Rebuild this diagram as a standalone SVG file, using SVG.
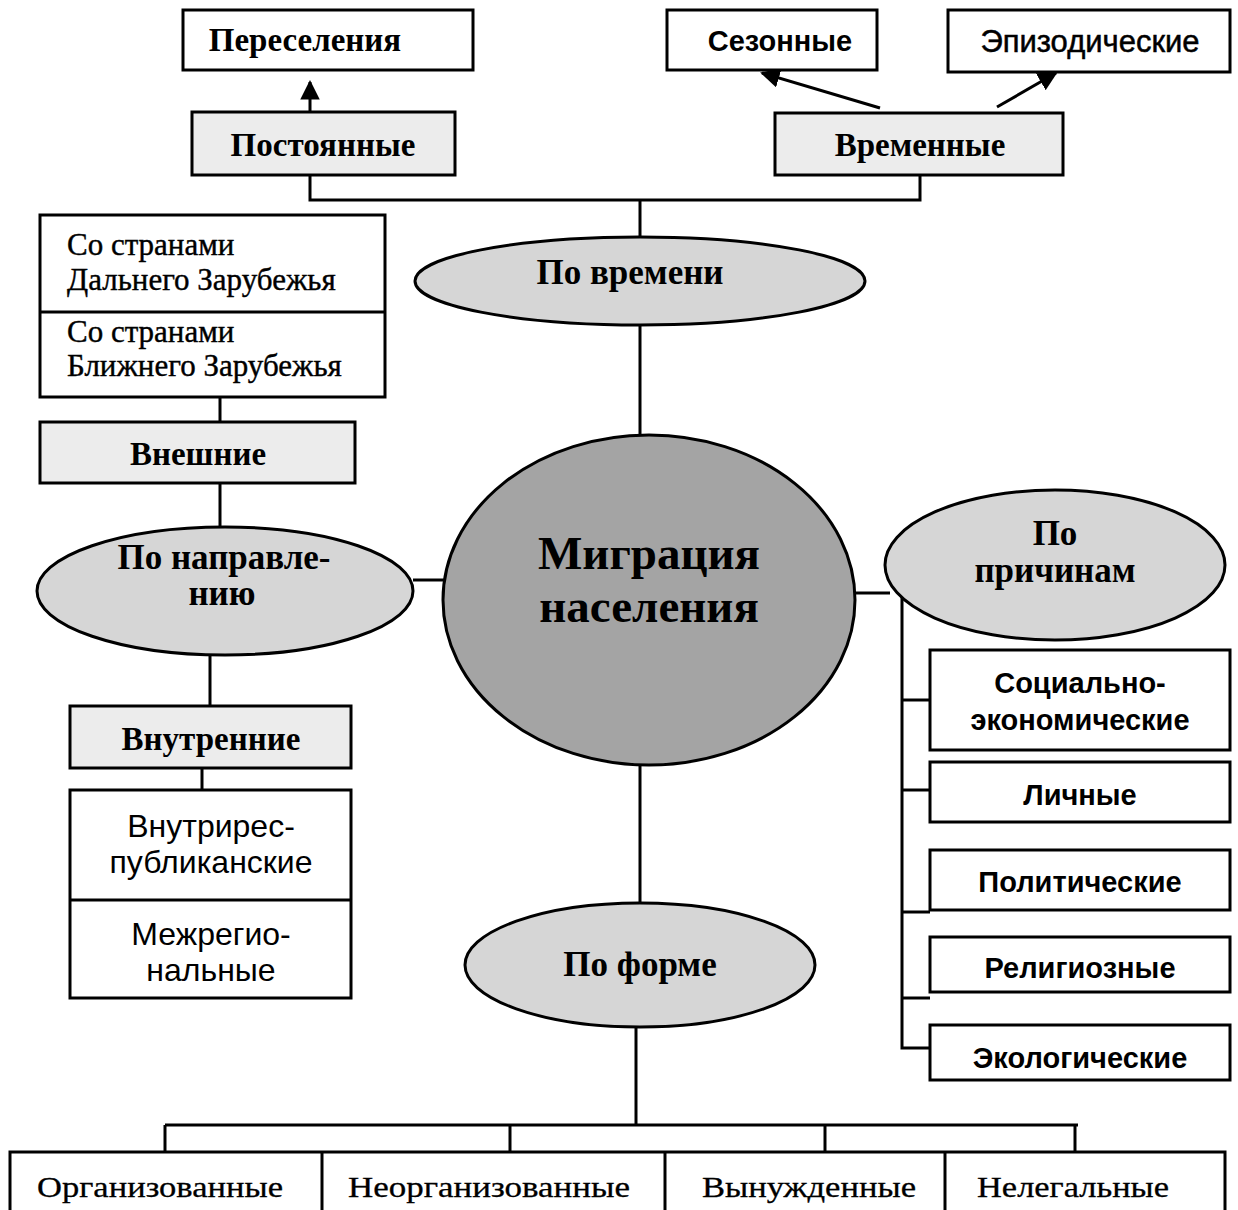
<svg xmlns="http://www.w3.org/2000/svg" width="1238" height="1210" viewBox="0 0 1238 1210">
<style>
.box{fill:#ffffff;stroke:#000;stroke-width:3}
.sh{fill:#ececec;stroke:#000;stroke-width:3}
.el{fill:#d6d6d6;stroke:#000;stroke-width:3}
.main{fill:#a4a4a4;stroke:#000;stroke-width:3}
.ln{stroke:#000;stroke-width:3;fill:none}
.sb{font-family:"Liberation Serif","Times New Roman",serif;font-weight:bold;font-size:33px;text-anchor:middle}
.eb{font-family:"Liberation Serif","Times New Roman",serif;font-weight:bold;font-size:35px;text-anchor:middle}
.mb{font-family:"Liberation Serif","Times New Roman",serif;font-weight:bold;font-size:47px;text-anchor:middle}
.sr{font-family:"Liberation Serif","Times New Roman",serif;font-size:31px;stroke:#000;stroke-width:0.4}
.nb{font-family:"Liberation Sans",Arial,sans-serif;font-weight:bold;font-size:29px;text-anchor:middle}
.nn{font-family:"Liberation Sans",Arial,sans-serif;font-size:31px;text-anchor:middle;stroke:#000;stroke-width:0.5}
.nr{font-family:"Liberation Sans",Arial,sans-serif;font-size:32px;text-anchor:middle}
.bt{font-family:"Liberation Serif","Times New Roman",serif;font-size:30px;text-anchor:middle;stroke:#000;stroke-width:0.3}
</style>
<defs>
<marker id="ah" viewBox="0 0 10 10" refX="9" refY="5" markerWidth="6.5" markerHeight="6.5" markerUnits="strokeWidth" orient="auto">
<path d="M0,0 L10,5 L0,10 z" fill="#000"/>
</marker>
</defs>

<g id="connectors">
<line class="ln" x1="310" y1="112" x2="310" y2="82" marker-end="url(#ah)"/>
<line class="ln" x1="880" y1="108" x2="762" y2="73" marker-end="url(#ah)"/>
<line class="ln" x1="997" y1="107" x2="1056" y2="73" marker-end="url(#ah)"/>
<polyline class="ln" points="310,175 310,200 920,200 920,175"/>
<line class="ln" x1="640" y1="200" x2="640" y2="237"/>
<line class="ln" x1="640" y1="325" x2="640" y2="435"/>
<line class="ln" x1="220" y1="397" x2="220" y2="422"/>
<line class="ln" x1="220" y1="483" x2="220" y2="527"/>
<line class="ln" x1="413" y1="580" x2="444" y2="580"/>
<line class="ln" x1="210" y1="655" x2="210" y2="706"/>
<line class="ln" x1="202" y1="768" x2="202" y2="790"/>
<line class="ln" x1="855" y1="593" x2="890" y2="593"/>
<polyline class="ln" points="902,593 902,1048 930,1048"/>
<line class="ln" x1="902" y1="700" x2="930" y2="700"/>
<line class="ln" x1="902" y1="790" x2="930" y2="790"/>
<line class="ln" x1="902" y1="912" x2="930" y2="912"/>
<line class="ln" x1="902" y1="998" x2="930" y2="998"/>
<line class="ln" x1="640" y1="765" x2="640" y2="903"/>
<line class="ln" x1="636" y1="1027" x2="636" y2="1125"/>
<line class="ln" x1="165" y1="1125" x2="1078" y2="1125"/>
<line class="ln" x1="165" y1="1125" x2="165" y2="1165"/>
<line class="ln" x1="510" y1="1125" x2="510" y2="1165"/>
<line class="ln" x1="825" y1="1125" x2="825" y2="1152"/>
<line class="ln" x1="1075" y1="1125" x2="1075" y2="1152"/>
</g>

<g id="n-pereseleniya"><rect class="box" x="183" y="10" width="290" height="60"/><text class="sb" x="305" y="51">Переселения</text></g>
<g id="n-postoyannye"><rect class="sh" x="192" y="112" width="263" height="63"/><text class="sb" x="323" y="156">Постоянные</text></g>
<g id="n-sezonnye"><rect class="box" x="667" y="10" width="210" height="60"/><text class="nb" x="780" y="51">Сезонные</text></g>
<g id="n-epizod"><rect class="box" x="948" y="10" width="282" height="62"/><text class="nn" x="1090" y="52">Эпизодические</text></g>
<g id="n-vremennye"><rect class="sh" x="775" y="113" width="288" height="62"/><text class="sb" x="920" y="156">Временные</text></g>

<g id="n-po-vremeni"><ellipse class="el" cx="640" cy="281" rx="225" ry="44"/><text class="eb" x="630" y="284">По времени</text></g>

<g id="n-main"><ellipse class="main" cx="649" cy="600" rx="206" ry="165"/><text class="mb" x="649" y="569">Миграция</text><text class="mb" x="649" y="622">населения</text></g>

<g id="n-zarubezh"><rect class="box" x="40" y="215" width="345" height="182"/><line class="ln" x1="40" y1="312" x2="385" y2="312"/>
<text class="sr" x="67" y="255">Со странами</text><text class="sr" x="67" y="290">Дальнего Зарубежья</text>
<text class="sr" x="67" y="342">Со странами</text><text class="sr" x="67" y="376">Ближнего Зарубежья</text></g>

<g id="n-vneshnie"><rect class="sh" x="40" y="422" width="315" height="61"/><text class="sb" x="198" y="465">Внешние</text></g>

<g id="n-po-napr"><ellipse class="el" cx="225" cy="591" rx="188" ry="64"/><text class="eb" x="224" y="569">По направле-</text><text class="eb" x="222" y="605">нию</text></g>

<g id="n-vnutrennie"><rect class="sh" x="70" y="706" width="281" height="62"/><text class="sb" x="211" y="750">Внутренние</text></g>

<g id="n-vnutr-sub"><rect class="box" x="70" y="790" width="281" height="208"/><line class="ln" x1="70" y1="900" x2="351" y2="900"/>
<text class="nr" x="211" y="837">Внутрирес-</text><text class="nr" x="211" y="873">публиканские</text>
<text class="nr" x="211" y="945">Межрегио-</text><text class="nr" x="211" y="981">нальные</text></g>

<g id="n-po-prich"><ellipse class="el" cx="1055" cy="565" rx="170" ry="75"/><text class="eb" x="1055" y="545">По</text><text class="eb" x="1055" y="582">причинам</text></g>

<g id="n-soc"><rect class="box" x="930" y="650" width="300" height="100"/><text class="nb" x="1080" y="693">Социально-</text><text class="nb" x="1080" y="730">экономические</text></g>
<g id="n-lich"><rect class="box" x="930" y="762" width="300" height="60"/><text class="nb" x="1080" y="805">Личные</text></g>
<g id="n-polit"><rect class="box" x="930" y="850" width="300" height="60"/><text class="nb" x="1080" y="892">Политические</text></g>
<g id="n-relig"><rect class="box" x="930" y="937" width="300" height="55"/><text class="nb" x="1080" y="978">Религиозные</text></g>
<g id="n-ekol"><rect class="box" x="930" y="1025" width="300" height="55"/><text class="nb" x="1080" y="1068">Экологические</text></g>

<g id="n-po-forme"><ellipse class="el" cx="640" cy="965" rx="175" ry="62"/><text class="eb" x="640" y="976">По форме</text></g>

<g id="n-bottom">
<rect class="box" x="10" y="1152" width="1215" height="70"/>
<line class="ln" x1="322" y1="1152" x2="322" y2="1210"/>
<line class="ln" x1="665" y1="1152" x2="665" y2="1210"/>
<line class="ln" x1="945" y1="1152" x2="945" y2="1210"/>
<text class="bt" x="160" y="1197" textLength="246" lengthAdjust="spacingAndGlyphs">Организованные</text>
<text class="bt" x="489" y="1197" textLength="282" lengthAdjust="spacingAndGlyphs">Неорганизованные</text>
<text class="bt" x="809" y="1197" textLength="214" lengthAdjust="spacingAndGlyphs">Вынужденные</text>
<text class="bt" x="1073" y="1197" textLength="192" lengthAdjust="spacingAndGlyphs">Нелегальные</text>
</g>
</svg>
